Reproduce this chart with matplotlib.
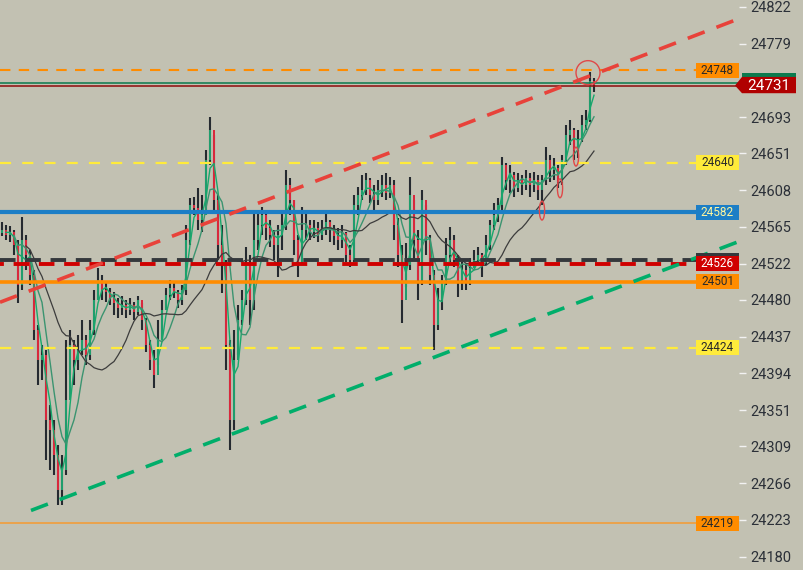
import matplotlib
matplotlib.use("Agg")
import matplotlib.pyplot as plt
import matplotlib.transforms as mtransforms
from matplotlib.patches import Rectangle, Polygon, Ellipse
import numpy as np
import pandas as pd

plt.rcParams['font.family'] = ['Roboto', 'DejaVu Sans']

# candle data (one candle = ~4 px of the reference), open = previous close
first_open = 24558
closes = [24561, 24556, 24559, 24544, 24497, 24550, 24532, 24509, 24445, 24410,
          24415, 24340, 24328, 24299, 24258, 24281, 24363, 24427, 24410, 24421,
          24433, 24415, 24445, 24480, 24503, 24491, 24489, 24482, 24476, 24470,
          24474, 24468, 24474, 24466, 24480, 24456, 24427, 24410, 24392, 24433,
          24468, 24485, 24494, 24489, 24480, 24491, 24550, 24591, 24587, 24573,
          24579, 24643, 24678, 24596, 24544, 24524, 24427, 24340, 24410, 24456,
          24480, 24521, 24480, 24550, 24567, 24579, 24564, 24556, 24544, 24556,
          24567, 24614, 24596, 24550, 24524, 24561, 24567, 24559, 24564, 24556,
          24561, 24571, 24561, 24554, 24550, 24558, 24532, 24526, 24591, 24602,
          24608, 24620, 24602, 24596, 24608, 24614, 24605, 24614, 24567, 24532,
          24480, 24521, 24602, 24550, 24503, 24596, 24550, 24509, 24450, 24480,
          24503, 24532, 24550, 24526, 24503, 24515, 24501, 24517, 24526, 24532,
          24524, 24544, 24567, 24579, 24591, 24637, 24620, 24626, 24610, 24620,
          24614, 24622, 24614, 24620, 24608, 24620, 24643, 24631, 24634, 24617,
          24643, 24672, 24678, 24655, 24666, 24684, 24690, 24735, 24731]
highs = [24571, 24567, 24566, 24561, 24550, 24577, 24556, 24538, 24515, 24450,
         24427, 24421, 24357, 24340, 24310, 24299, 24433, 24445, 24433, 24439,
         24456, 24439, 24456, 24491, 24517, 24509, 24500, 24494, 24489, 24482,
         24484, 24480, 24482, 24477, 24484, 24476, 24459, 24433, 24421, 24456,
         24480, 24494, 24503, 24501, 24491, 24497, 24567, 24599, 24600, 24610,
         24602, 24655, 24693, 24672, 24602, 24567, 24526, 24433, 24445, 24474,
         24491, 24542, 24532, 24585, 24582, 24588, 24582, 24573, 24561, 24567,
         24581, 24631, 24622, 24596, 24556, 24588, 24582, 24573, 24573, 24571,
         24573, 24585, 24573, 24567, 24564, 24567, 24559, 24544, 24602, 24612,
         24626, 24628, 24622, 24614, 24620, 24626, 24628, 24623, 24620, 24575,
         24544, 24546, 24623, 24596, 24561, 24608, 24591, 24556, 24515, 24494,
         24509, 24552, 24565, 24556, 24532, 24524, 24521, 24529, 24538, 24542,
         24535, 24556, 24573, 24593, 24599, 24647, 24640, 24637, 24629, 24628,
         24626, 24631, 24628, 24629, 24626, 24626, 24658, 24649, 24645, 24637,
         24649, 24684, 24690, 24680, 24678, 24696, 24701, 24746, 24739]
lows = [24554, 24550, 24547, 24532, 24476, 24491, 24515, 24497, 24433, 24380,
        24386, 24293, 24281, 24275, 24240, 24240, 24275, 24392, 24380, 24398,
        24415, 24404, 24410, 24439, 24480, 24480, 24477, 24474, 24462, 24459,
        24462, 24459, 24462, 24456, 24462, 24445, 24419, 24398, 24377, 24404,
        24433, 24468, 24480, 24482, 24470, 24474, 24485, 24544, 24579, 24561,
        24559, 24579, 24637, 24585, 24526, 24488, 24398, 24305, 24328, 24415,
        24450, 24474, 24450, 24468, 24538, 24556, 24550, 24542, 24526, 24507,
        24538, 24561, 24579, 24532, 24507, 24521, 24550, 24550, 24552, 24547,
        24550, 24556, 24547, 24544, 24538, 24540, 24524, 24518, 24524, 24579,
        24596, 24602, 24593, 24585, 24591, 24600, 24596, 24599, 24550, 24518,
        24453, 24495, 24515, 24526, 24480, 24497, 24532, 24497, 24421, 24445,
        24468, 24497, 24524, 24518, 24483, 24491, 24491, 24497, 24517, 24521,
        24507, 24521, 24538, 24561, 24571, 24585, 24608, 24605, 24600, 24606,
        24602, 24608, 24600, 24606, 24596, 24591, 24614, 24617, 24620, 24610,
        24614, 24637, 24661, 24643, 24645, 24664, 24678, 24687, 24722]

# horizontal levels and their label boxes
level_values = [24748, 24640, 24582, 24526, 24522, 24501, 24424, 24219]
label_texts = ['24748', '24640', '24582', '24526', '24501', '24424', '24219']
label_prices = [24748, 24640, 24582, 24522, 24501, 24424, 24219]
last_price = 24731
bid_ask = [24732.5, 24729]

# trend lines (candle index, price)
red_trend_x = [-0.5, 184.25]
red_trend_y = [24477, 24808]
green_trend_x = [7.25, 184.25]
green_trend_y = [24234, 24548]

# marks drawn on the chart (candle index, price)
big_circle = (146.5, 24745)
small_marks_x = [135.0, 139.5, 143.5]
small_marks_y = [24584, 24610, 24647]

yticks = [24822, 24779, 24693, 24651, 24608, 24565, 24522, 24480, 24437,
          24394, 24351, 24309, 24266, 24223, 24180]

bg = '#c2c1b2'
fig = plt.figure(figsize=(8.04, 5.70), dpi=100, facecolor=bg)
ax = fig.add_axes([0, 0, 739 / 804, 1])
ax.set_facecolor(bg)

n = len(closes)
idx = np.arange(n)
c = np.array(closes, float)
o = np.r_[first_open, c[:-1]]
h = np.array(highs, float)
l = np.array(lows, float)

# wicks
ax.vlines(idx, l, h, color='#252a30', lw=1.5, zorder=3)
up = c >= o
body_lo = np.minimum(o, c)
body_h = np.maximum(np.abs(c - o), 1.2)
ax.bar(idx[up], body_h[up], bottom=body_lo[up], width=0.7, color='#1f9d6c', zorder=4, lw=0)
ax.bar(idx[~up], body_h[~up], bottom=body_lo[~up], width=0.7, color='#d8283c', zorder=4, lw=0)

# moving averages
s = pd.Series(c)
ma_fast = s.rolling(3, min_periods=1).mean()
ma_mid = s.rolling(6, min_periods=1).mean()
ma_slow = s.rolling(18, min_periods=1).mean()
ax.plot(idx[1:], ma_fast[1:], color='#18a86c', lw=1.0, zorder=5)
ax.plot(idx[3:], ma_mid[3:], color='#3b9470', lw=1.0, zorder=5)
ax.plot(idx[6:], ma_slow[6:], color='#3c3c3c', lw=0.9, zorder=5)

# horizontal levels
ax.axhline(level_values[0], color='#ff8c00', lw=1.5, ls=(0, (5, 4)), zorder=6)
ax.axhline(level_values[1], color='#ffeb3b', lw=1.6, ls=(0, (5, 5)), zorder=6)
ax.axhline(level_values[2], color='#1c7ec6', lw=3.0, zorder=6)
ax.axhline(level_values[3], color='#34383c', lw=2.8, ls=(0, (4, 2.5)), zorder=6)
ax.axhline(level_values[4], color='#d00000', lw=2.8, ls=(3, (4, 2.5)), zorder=6)
ax.axhline(level_values[5], color='#ff8c00', lw=2.6, zorder=6)
ax.axhline(level_values[6], color='#ffeb3b', lw=1.6, ls=(0, (5, 5)), zorder=6)
ax.axhline(level_values[7], color='#f59a30', lw=1.1, zorder=6)
ax.axhline(bid_ask[0], color='#0b7a4e', lw=1.1, zorder=6)
ax.axhline(bid_ask[1], color='#8e0b0b', lw=1.1, zorder=6)

# trend lines
ax.plot(red_trend_x, red_trend_y, color='#e8423a', lw=2.6, ls=(0, (5, 3.5)), zorder=7)
ax.plot(green_trend_x, green_trend_y, color='#00ae6a', lw=2.6, ls=(0, (5, 3.5)), zorder=7)

# circles
ax.add_patch(Ellipse(big_circle, 6, 28, fill=False, ec='#e04848', lw=1.0, zorder=8))
for mx, my in zip(small_marks_x, small_marks_y):
    ax.add_patch(Ellipse((mx, my), 1.3, 22, fill=False, ec='#e04848', lw=1.0, zorder=8))

ax.set_xlim(-0.5, 184.25)
ax.set_ylim(24164.5, 24829.8)
for sp in ax.spines.values():
    sp.set_visible(False)
ax.set_xticks([])
ax.yaxis.tick_right()
ax.set_yticks(yticks)
ax.set_yticklabels([str(v) for v in yticks])
ax.tick_params(axis='y', length=5, width=1, color='#f2f2f2', pad=3,
               labelsize=10.5, labelcolor='#2b3038')

# label boxes
trans = mtransforms.blended_transform_factory(ax.transAxes, ax.transData)
box_face = ['#ff8c00', '#ffeb3b', '#1c7ec6', '#d00000', '#ff8c00', '#ffeb3b', '#ff8c00']
box_text = ['#2a2a2a', '#2a2a2a', '#fff59d', '#ffffff', '#2a2a2a', '#2a2a2a', '#2a2a2a']
bx0 = 696 / 739
bh = 17.5
for txt, pv, fc, tc in zip(label_texts, label_prices, box_face, box_text):
    ax.add_patch(Rectangle((bx0, pv - bh / 2), 1 - bx0, bh, transform=trans,
                           fc=fc, ec='none', zorder=9, clip_on=False))
    ax.text((bx0 + 1) / 2, pv, txt, transform=trans, ha='center', va='center',
            fontsize=8.5, color=tc, zorder=10)
# dark strip on top of the 24526 box
ax.add_patch(Rectangle((bx0, label_prices[3] + bh / 2), 1 - bx0, 3.5, transform=trans,
                       fc='#34383c', ec='none', zorder=9, clip_on=False))

# last price tag
tip = 735 / 739
cx = 742 / 739
rx = 796 / 739
top = last_price + 9
bot = last_price - 10
ax.add_patch(Polygon([(cx, top + 4.5), (rx, top + 4.5), (rx, top), (cx, top)],
                     closed=True, transform=trans, fc='#0b7a4e', ec='none',
                     zorder=11, clip_on=False))
ax.add_patch(Polygon([(tip, last_price - 1), (cx, top), (rx, top), (rx, bot), (cx, bot)],
                     closed=True, transform=trans, fc='#b00000', ec='none',
                     zorder=11, clip_on=False))
ax.text((cx + rx) / 2, last_price - 1, str(last_price), transform=trans, ha='center',
        va='center', fontsize=11, color='white', zorder=12, clip_on=False)

fig.savefig('out.png', dpi=100, facecolor=bg)
